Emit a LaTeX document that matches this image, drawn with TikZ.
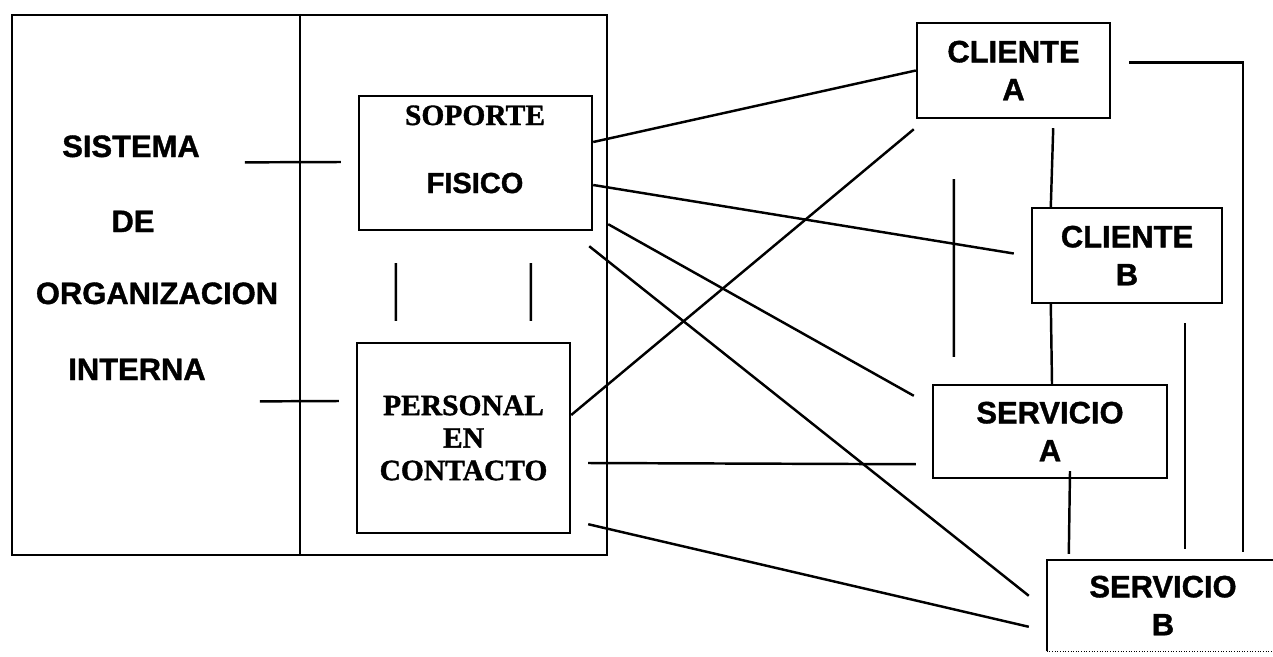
\documentclass[tikz,border=0pt]{standalone}
\usepackage{fontspec}
\setmainfont{Liberation Sans}[BoldFeatures={FakeBold=1.2}]
\newfontfamily\timesb{Liberation Serif}[BoldFeatures={FakeBold=1.2}]
\usepackage{tikz}

\newcommand{\rotfont}{\fontsize{17.6}{21.6}\selectfont\bfseries}
\newcommand{\serfont}{\timesb\fontsize{16.8}{18.5}\selectfont\bfseries}
\newcommand{\fisfont}{\fontsize{16.5}{19}\selectfont\bfseries}

\begin{document}
\begin{tikzpicture}[x=0.02cm, y=-0.02cm, line width=1.4pt,
    caja/.style={draw, inner sep=0pt, align=center, font=\rotfont},
    rotulo/.style={font=\rotfont, anchor=base, inner sep=0pt},
    rotserif/.style={font=\serfont, anchor=base, inner sep=0pt}]
                      \useasboundingbox (0,0) rectangle (1273,656);

                      \node[draw, minimum width=11.9cm, minimum height=10.8cm, inner sep=0pt] (marco) at (309.5,285) {};
                      \draw[line width=1pt] ([xshift=5.78cm]marco.north west) -- ([xshift=5.78cm]marco.south west);

                      \node[rotulo] (sistema) at (131,157) {SISTEMA};
                      \node[rotulo] (de) at (133,232) {DE};
                      \node[rotulo] (organizacion) at (157,304) {ORGANIZACION};
                      \node[rotulo] (interna) at (137,380) {INTERNA};

                      \node[caja, minimum width=4.66cm, minimum height=2.68cm] (soporte) at (475.5,163) {};
                      \node[rotserif] (soportetxt) at (475,125) {SOPORTE};
                      \node[rotulo, font=\fisfont] (fisico) at (475,193) {FISICO};
                      \node[caja, font=\serfont, minimum width=4.26cm, minimum height=3.8cm] (personal) at (463.5,438) {PERSONAL\\EN\\CONTACTO};

                      \node[caja, minimum width=3.86cm, minimum height=1.9cm] (clientea) at (1013.5,70.5) {CLIENTE\\A};
                      \node[caja, minimum width=3.8cm, minimum height=1.9cm] (clienteb) at (1127,255.5) {CLIENTE\\B};
                      \node[caja, minimum width=4.68cm, minimum height=1.86cm] (servicioa) at (1050,431.5) {SERVICIO\\A};
                      \node[caja, draw=none, minimum width=4.6cm, minimum height=1.78cm] (serviciob) at (1163,605.5) {SERVICIO\\B};
                      \draw (serviciob.south west) -- (serviciob.north west) -- (serviciob.north east);
                      \draw[densely dotted, line width=0.5pt] (serviciob.south west) -- (serviciob.south east);

                      \draw ([shift={(44,16)}]sistema.east) -- ([shift={(-17,-1)}]soporte.west);
                      \draw ([shift={(53,32)}]interna.east) -- ([shift={(-17,-37)}]personal.west);
                      \draw ([shift={(38,32)}]soporte.south west) -- ([shift={(40,-21)}]personal.north west);
                      \draw ([shift={(173,32)}]soporte.south west) -- ([shift={(175,-21)}]personal.north west);

                      \draw ([shift={(0,-21)}]soporte.east) -- (clientea.west);
                      \draw ([shift={(0,22)}]soporte.east) -- ([shift={(-17,-2)}]clienteb.west);
                      \draw ([shift={(15,-7)}]soporte.south east) -- ([shift={(-18,12)}]servicioa.north west);
                      \draw ([shift={(-4,15)}]soporte.south east) -- ([shift={(-18,36)}]serviciob.north west);
                      \draw ([shift={(0,-23)}]personal.east) -- ([shift={(-2,10)}]clientea.south west);
                      \draw ([shift={(17,25)}]personal.east) -- ([shift={(-16,-15)}]servicioa.south west);
                      \draw ([shift={(17,-10)}]personal.south east) -- ([shift={(-18,67)}]serviciob.north west);

                      \draw ([shift={(38,60)}]clientea.south west) -- ([shift={(22,-27)}]servicioa.north west);
                      \draw ([shift={(-58,9)}]clientea.south east) -- ([shift={(20,0)}]clienteb.north west);
                      \draw ([shift={(20,0)}]clienteb.south west) -- ([shift={(2,0)}]servicioa.north);
                      \draw ([shift={(20,-8)}]servicioa.south) -- ([shift={(22,-6)}]serviciob.north west);
                      \draw ([shift={(58,19)}]clienteb.south) -- ([shift={(22,-11)}]serviciob.north);
                      \draw ([shift={(18,-8)}]clientea.east) -| ([shift={(80,-8)}]serviciob.north);
                \end{tikzpicture}
\end{document}
